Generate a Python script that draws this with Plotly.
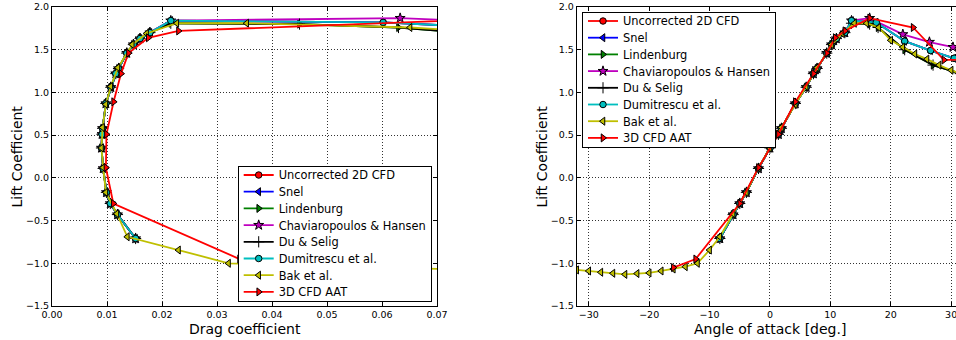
import plotly.graph_objects as go

# ---------------- data ----------------
# shared pre-stall polar of the 2D-derived models
base_alpha = [-8.3, -6.1, -5.0, -3.9, -1.9, 0.0, 1.4, 1.9, 4.2, 6.0, 7.2, 7.8, 9.4, 10.2, 11.0, 12.4]
base_cl = [-0.71, -0.43, -0.30, -0.17, 0.11, 0.35, 0.51, 0.58, 0.87, 1.06, 1.22, 1.28, 1.46, 1.56, 1.63, 1.70]
base_cd = [0.0152, 0.0119, 0.0106, 0.0099, 0.0093, 0.0090, 0.0091, 0.0092, 0.0098, 0.0107, 0.0116, 0.0121,
           0.0136, 0.0148, 0.0160, 0.0178]

# post-stall parts, per model
unc_alpha = [13.5, 17.6, 22.3, 26.6, 30.5, 34.0]
unc_cl = [1.84, 1.82, 1.60, 1.49, 1.40, 1.35]
unc_cd = [0.0216, 0.0602, 0.115, 0.165, 0.215, 0.250]

snel_alpha = [13.5, 17.6, 22.3, 26.6, 30.5, 34.0]
snel_cl = [1.84, 1.82, 1.60, 1.49, 1.40, 1.35]
snel_cd = [0.0216, 0.0602, 0.115, 0.165, 0.215, 0.250]

lind_alpha = [13.5, 16.5, 17.9, 22.3, 27.0, 31.5]
lind_cl = [1.81, 1.80, 1.76, 1.50, 1.32, 1.22]
lind_cd = [0.0216, 0.045, 0.063, 0.115, 0.170, 0.220]

chav_alpha = [13.5, 16.5, 22.0, 26.4, 30.3, 34.3]
chav_cl = [1.84, 1.87, 1.68, 1.59, 1.53, 1.50]
chav_cd = [0.0216, 0.0633, 0.115, 0.165, 0.215, 0.250]

du_alpha = [13.5, 16.5, 17.9, 22.3, 27.0, 31.5]
du_cl = [1.81, 1.80, 1.76, 1.50, 1.32, 1.22]
du_cd = [0.0216, 0.045, 0.063, 0.115, 0.170, 0.220]

dum_alpha = [13.5, 17.6, 22.3, 26.6, 30.5, 34.0]
dum_cl = [1.84, 1.82, 1.60, 1.49, 1.40, 1.35]
dum_cd = [0.0216, 0.0602, 0.115, 0.165, 0.215, 0.250]

bak_alpha = [-32, -30, -28, -26, -24, -22, -20, -18, -16, -14, -12, -10,
             -8.3, -6.1, -3.9, -1.9, 0.0, 1.9, 4.2, 6.0, 7.8, 10.2, 12.0,
             14, 16, 18, 20, 22, 24, 26, 28, 30, 32]
bak_cl = [-1.078, -1.09, -1.105, -1.117, -1.13, -1.12, -1.113, -1.09, -1.067, -1.04, -1.0, -0.845,
          -0.69, -0.42, -0.17, 0.12, 0.35, 0.59, 0.86, 1.07, 1.29, 1.56, 1.69,
          1.81, 1.81, 1.76, 1.61, 1.53, 1.45, 1.39, 1.32, 1.26, 1.21]
bak_cd = [0.40, 0.37, 0.34, 0.31, 0.28, 0.24, 0.20, 0.14, 0.071, 0.055, 0.0321, 0.023,
          0.0137, 0.0118, 0.0098, 0.0093, 0.0090, 0.0092, 0.0098, 0.0107, 0.0120, 0.0146, 0.0172,
          0.0227, 0.0354, 0.0651, 0.095, 0.120, 0.145, 0.170, 0.195, 0.220, 0.245]

aat_alpha = [-16, -12.3, -5.0, -1.9, 1.4, 4.2, 7.2, 9.4, 10.8, 12.4, 16.5, 23.7, 28.8, 33.0]
aat_cl = [-1.05, -0.95, -0.30, 0.12, 0.51, 0.89, 1.22, 1.46, 1.64, 1.72, 1.87, 1.76, 1.38, 1.38]
aat_cd = [0.062, 0.0341, 0.01115, 0.0098, 0.0099, 0.0112, 0.01255, 0.0139, 0.0175, 0.023, 0.085, 0.150,
          0.200, 0.240]

names = ["Uncorrected 2D CFD", "Snel", "Lindenburg", "Chaviaropoulos & Hansen",
         "Du & Selig", "Dumitrescu et al.", "Bak et al.", "3D CFD AAT"]

x_ticks_left = [0.00, 0.01, 0.02, 0.03, 0.04, 0.05, 0.06, 0.07]
x_ticks_right = [-30, -20, -10, 0, 10, 20, 30]
y_ticks = [-1.5, -1.0, -0.5, 0.0, 0.5, 1.0, 1.5, 2.0]

# ---------------- assemble series ----------------
series = [
    (base_alpha + unc_alpha, base_cl + unc_cl, base_cd + unc_cd),
    (base_alpha + snel_alpha, base_cl + snel_cl, base_cd + snel_cd),
    (base_alpha + lind_alpha, base_cl + lind_cl, base_cd + lind_cd),
    (base_alpha + chav_alpha, base_cl + chav_cl, base_cd + chav_cd),
    (base_alpha + du_alpha, base_cl + du_cl, base_cd + du_cd),
    (base_alpha + dum_alpha, base_cl + dum_cl, base_cd + dum_cd),
    (bak_alpha, bak_cl, bak_cd),
    (aat_alpha, aat_cl, aat_cd),
]

styles = [
    dict(color="#ff0000", symbol="circle", size=6.5),
    dict(color="#0000ff", symbol="triangle-left", size=7),
    dict(color="#008000", symbol="triangle-right", size=7),
    dict(color="#bf00bf", symbol="star", size=7.5),
    dict(color="#000000", symbol="cross-thin", size=8),
    dict(color="#00bfbf", symbol="circle", size=6.5),
    dict(color="#bfbf00", symbol="triangle-left", size=7),
    dict(color="#ff0000", symbol="triangle-right", size=7),
]

FONT = "DejaVu Sans"
fig = go.Figure()

for (alpha, cl, cd), name, st in zip(series, names, styles):
    mk = dict(symbol=st["symbol"], size=st["size"], color=st["color"],
              line=dict(color="black", width=1))
    ln = dict(color=st["color"], width=1.8)
    fig.add_trace(go.Scatter(x=cd, y=cl, mode="lines+markers", name=name, marker=mk, line=ln,
                             xaxis="x", yaxis="y", legend="legend"))
    fig.add_trace(go.Scatter(x=alpha, y=cl, mode="lines+markers", name=name, marker=mk, line=ln,
                             xaxis="x2", yaxis="y2", legend="legend2"))

W, H = 956, 340
ML, MR, MT, MB = 0, 0, 7, 34
pw = W - ML - MR
ph = H - MT - MB


def px_x(p):
    return (p - ML) / pw


def px_y(p):
    return (H - MB - p) / ph


axis_common = dict(
    showline=True, linecolor="black", linewidth=1,
    ticks="inside", ticklen=4, tickwidth=1, tickcolor="black",
    showgrid=True, gridcolor="rgba(0,0,0,0.8)", griddash="1px,2px", gridwidth=1,
    zeroline=False, tickfont=dict(family=FONT, size=9.5, color="black"),
)

legend_common = dict(
    bgcolor="white", bordercolor="black", borderwidth=1,
    font=dict(family=FONT, size=11.4, color="black"),
    tracegroupgap=0, itemclick=False, yanchor="top",
)

fig.update_layout(
    width=W, height=H, template="none",
    margin=dict(l=ML, r=MR, t=MT, b=MB, pad=0),
    paper_bgcolor="white", plot_bgcolor="white",
    font=dict(family=FONT, color="black"),
    xaxis=dict(axis_common, domain=[px_x(52), px_x(437)], range=[0, 0.07], tickvals=x_ticks_left,
               tickformat=".2f", mirror="ticks", anchor="y"),
    yaxis=dict(axis_common, domain=[0, 1], range=[-1.5, 2.0], tickvals=y_ticks, tickformat=".1f",
               mirror="ticks", anchor="x"),
    xaxis2=dict(axis_common, domain=[px_x(576.7), 1.0], range=[-32, 30.8], tickvals=x_ticks_right,
                mirror="ticks", anchor="y2", ticklabeloverflow="allow"),
    yaxis2=dict(axis_common, domain=[0, 1], range=[-1.5, 2.0], tickvals=y_ticks, tickformat=".1f",
                mirror=False, anchor="x2"),
    legend=dict(legend_common, x=px_x(431.7), xanchor="right", y=px_y(166)),
    legend2=dict(legend_common, x=px_x(582), xanchor="left", y=px_y(12)),
    showlegend=True,
    annotations=[
        dict(text="Drag coefficient", x=px_x(244.5), y=px_y(329), xref="paper", yref="paper",
             showarrow=False, xanchor="center", yanchor="middle", font=dict(family=FONT, size=14)),
        dict(text="Angle of attack [deg.]", x=px_x(770), y=px_y(329), xref="paper", yref="paper",
             showarrow=False, xanchor="center", yanchor="middle", font=dict(family=FONT, size=14)),
        dict(text="Lift Coefficient", x=px_x(16), y=0.5, xref="paper", yref="paper", textangle=-90,
             showarrow=False, xanchor="center", yanchor="middle", font=dict(family=FONT, size=14)),
        dict(text="Lift Coefficient", x=px_x(541), y=0.5, xref="paper", yref="paper", textangle=-90,
             showarrow=False, xanchor="center", yanchor="middle", font=dict(family=FONT, size=14)),
    ],
)

# tighten legend row spacing to the reference's (~16.7 px per entry)
post_js = """
var gd = document.getElementById('{plot_id}');
function tighten() {
  ['legend', 'legend2'].forEach(function(id) {
    var g = gd.querySelector('g.' + id);
    if (!g) return;
    var items = g.querySelectorAll('g.traces');
    var sp = 16.7, top = 9.0;
    items.forEach(function(it, i) {
      var t = it.getAttribute('transform') || '';
      var m = /translate\\(\\s*([-0-9.e]+)/.exec(t);
      var x = m ? parseFloat(m[1]) : 1;
      it.setAttribute('transform', 'translate(' + x + ',' + (top + i * sp) + ')');
    });
    var h = 2 * top + (items.length - 1) * sp;
    var bg = g.querySelector('rect.bg');
    if (bg) bg.setAttribute('height', h);
  });
}
tighten();
"""

fig.write_html("out.html", post_script=post_js)
